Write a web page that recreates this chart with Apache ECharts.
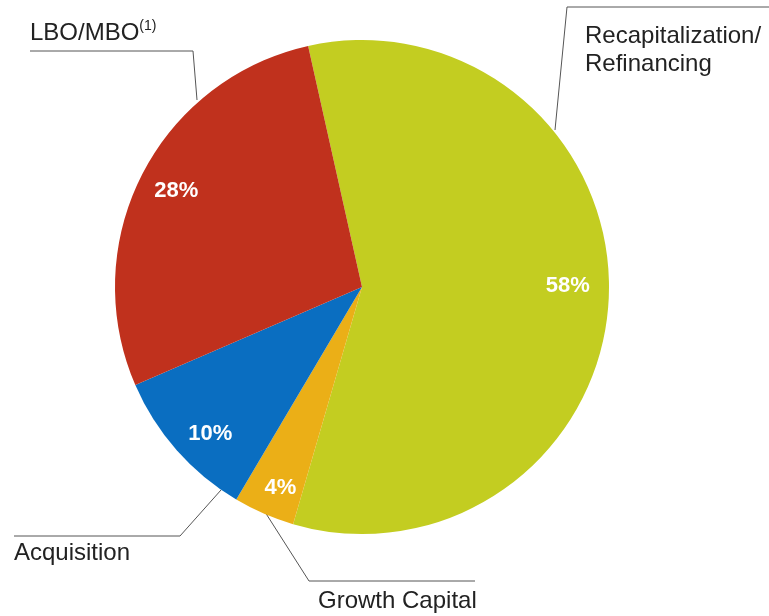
<!DOCTYPE html>
<html>
<head>
<meta charset="utf-8">
<script src="https://cdn.jsdelivr.net/npm/echarts@6/dist/echarts.min.js"></script>
<style>
html,body{margin:0;padding:0;background:#fff;}
#c{width:769px;height:616px;}
</style>
</head>
<body>
<div id="c"></div>
<script>
// Data
var categories = ['Recapitalization/\nRefinancing', 'Growth Capital', 'Acquisition', 'LBO/MBO'];
var shares = [58, 4, 10, 28];
var colors = ['#C3CD21', '#EBAF17', '#0A6EC1', '#C0311D'];

var chart = echarts.init(document.getElementById('c'));

// Label placement (annotation layout, by category index)
var nameLayouts = [
  { x: 585, y: 22, line: [[555, 130], [567, 7], [769, 7]] },
  { x: 318, y: 587, line: [[265, 512], [309, 581], [475, 581]] },
  { x: 14, y: 539, line: [[221, 490], [180, 536], [14, 536]] },
  { x: 30, y: 19, line: [[197, 100], [193, 51], [30, 51]] }
];
var pctOffsets = [[-7, -8], [3, 6], [8, 6], [4, 1]];

var pieData = categories.map(function (n, i) {
  return { name: n, value: shares[i], itemStyle: { color: colors[i] } };
});

var cx = 362, cy = 287, R = 247;
var FF = 'Liberation Sans, Arial, sans-serif';

chart.setOption({
  animation: false,
  series: [
    {
      type: 'pie',
      center: [cx, cy],
      radius: [0, R],
      startAngle: 102.6,
      clockwise: true,
      avoidLabelOverlap: false,
      silent: true,
      data: pieData,
      label: {
        show: true,
        position: 'outside',
        color: '#222',
        fontFamily: FF,
        fontSize: 24,
        lineHeight: 28,
        formatter: function (p) {
          if (p.dataIndex === 3) return '{a|' + p.name + '}{s|(1)}';
          return p.name;
        },
        rich: {
          a: { fontSize: 24, lineHeight: 28, color: '#222', fontFamily: FF },
          s: { fontSize: 14, color: '#222', fontFamily: FF, padding: [0, 0, 13, 0] }
        }
      },
      labelLine: { show: true, lineStyle: { color: '#555', width: 1 } },
      labelLayout: function (params) {
        var l = nameLayouts[params.dataIndex];
        return { x: l.x, y: l.y, align: 'left', verticalAlign: 'top', labelLinePoints: l.line };
      }
    },
    {
      type: 'pie',
      center: [cx, cy],
      radius: [R * 0.7, R],
      startAngle: 102.6,
      clockwise: true,
      silent: true,
      data: pieData.map(function (d) { return { name: d.name, value: d.value, itemStyle: { color: 'rgba(0,0,0,0)' } }; }),
      label: {
        show: true,
        position: 'inside',
        color: '#fff',
        fontWeight: 'bold',
        fontSize: 22,
        fontFamily: FF,
        formatter: '{c}%'
      },
      labelLine: { show: false },
      labelLayout: function (params) {
        var o = pctOffsets[params.dataIndex];
        return { dx: o[0], dy: o[1] };
      }
    }
  ]
});
</script>
</body>
</html>
